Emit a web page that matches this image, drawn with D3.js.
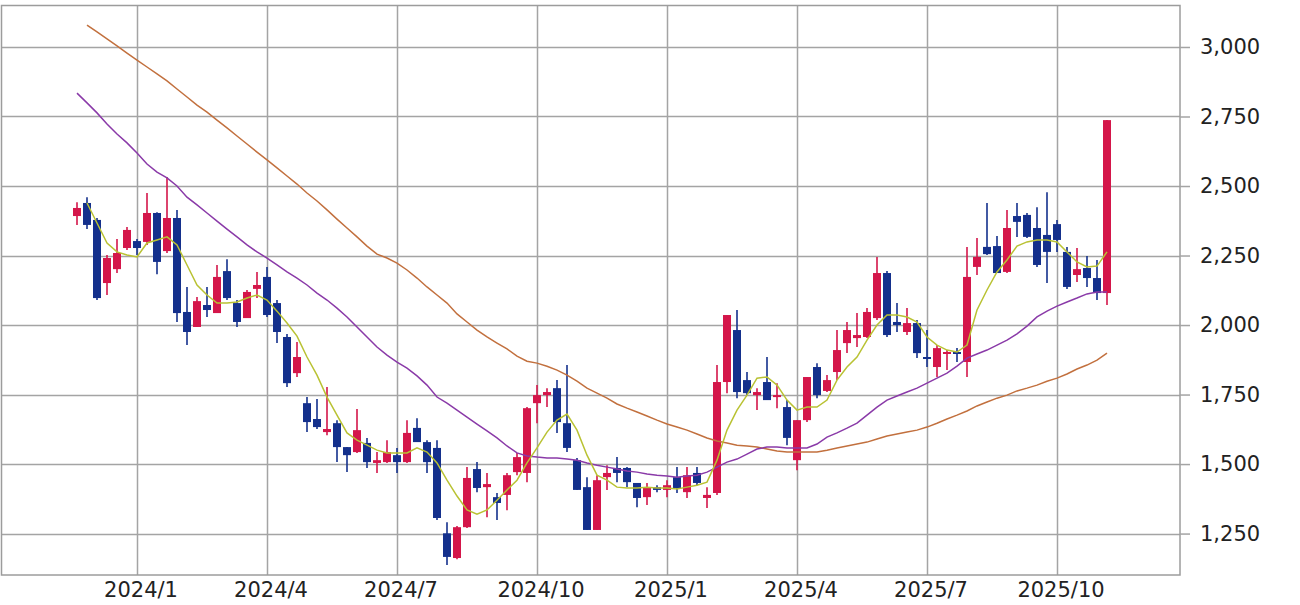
<!DOCTYPE html>
<html>
<head>
<meta charset="utf-8">
<script src="https://cdn.jsdelivr.net/npm/d3@7"></script>
<style>
  body { margin: 0; background: #fff; }
  svg { display: block; }
</style>
</head>
<body>
<div id="chart"></div>
<script>
// weekly bars, Monday of each week (2023/11/20 .. 2025/11/10)
var weeks = d3.timeMonday.range(new Date(2023, 10, 20), new Date(2025, 10, 11));

var opens = [2392, 2439, 2378, 2151, 2201, 2277, 2302, 2299, 2403, 2266,
  2385, 2047, 1993, 2072, 2043, 2194, 2079, 2025, 2130, 2173,
  2079, 1957, 1827, 1719, 1662, 1615, 1647, 1561, 1543, 1576,
  1504, 1507, 1532, 1507, 1630, 1579, 1558, 1251, 1162, 1273,
  1482, 1417, 1381, 1389, 1471, 1468, 1719, 1748, 1773, 1647,
  1514, 1417, 1263, 1453, 1486, 1486, 1432, 1381, 1417, 1407,
  1453, 1399, 1468, 1378, 1396, 1795, 1982, 1802, 1748, 1795,
  1741, 1705, 1514, 1658, 1849, 1763, 1831, 1935, 1953, 1957,
  2025, 2187, 2011, 1975, 2007, 1885, 1849, 1899, 1903, 1867,
  2209, 2281, 2284, 2191, 2392, 2396, 2349, 2324, 2363, 2263,
  2180, 2205, 2169, 2115];

var highs = [2442, 2460, 2385, 2252, 2309, 2353, 2309, 2475, 2406, 2532,
  2414, 2137, 2101, 2137, 2216, 2237, 2090, 2126, 2191, 2209,
  2090, 1968, 1939, 1741, 1734, 1777, 1658, 1561, 1698, 1594,
  1543, 1586, 1558, 1658, 1665, 1586, 1586, 1291, 1277, 1489,
  1507, 1468, 1396, 1468, 1540, 1705, 1784, 1773, 1802, 1856,
  1522, 1453, 1460, 1496, 1525, 1489, 1432, 1432, 1424, 1442,
  1489, 1489, 1489, 1417, 1856, 2036, 2054, 1831, 1773, 1885,
  1791, 1730, 1658, 1813, 1863, 1820, 1982, 2011, 2043, 2061,
  2245, 2194, 2079, 2061, 2018, 1982, 1928, 1910, 1917, 2281,
  2313, 2439, 2320, 2414, 2439, 2403, 2424, 2478, 2378, 2281,
  2277, 2248, 2234, 2737];

var lows = [2360, 2345, 2090, 2108, 2187, 2270, 2252, 2288, 2183, 2259,
  2011, 1928, 1993, 2029, 2043, 2090, 1993, 2025, 2097, 2029,
  1935, 1777, 1813, 1615, 1626, 1604, 1507, 1471, 1540, 1486,
  1468, 1504, 1468, 1504, 1579, 1468, 1299, 1137, 1158, 1270,
  1399, 1309, 1299, 1334, 1460, 1435, 1647, 1705, 1612, 1543,
  1407, 1263, 1263, 1407, 1435, 1417, 1345, 1353, 1399, 1381,
  1396, 1378, 1424, 1342, 1389, 1755, 1737, 1748, 1694, 1730,
  1701, 1568, 1478, 1651, 1737, 1759, 1802, 1899, 1921, 1953,
  2018, 1957, 1975, 1964, 1881, 1849, 1813, 1838, 1867, 1813,
  2180, 2252, 2187, 2187, 2317, 2313, 2209, 2151, 2263, 2130,
  2155, 2137, 2090, 2072];

var closes = [2421, 2360, 2097, 2241, 2259, 2342, 2277, 2403, 2227, 2385,
  2043, 1975, 2086, 2054, 2173, 2097, 2011, 2119, 2144, 2036,
  1975, 1791, 1885, 1651, 1633, 1626, 1561, 1532, 1622, 1507,
  1514, 1543, 1507, 1612, 1579, 1507, 1306, 1166, 1273, 1450,
  1414, 1428, 1360, 1460, 1525, 1701, 1748, 1759, 1651, 1558,
  1407, 1263, 1442, 1468, 1468, 1435, 1378, 1417, 1407, 1424,
  1414, 1460, 1432, 1389, 1795, 2036, 1759, 1755, 1759, 1730,
  1748, 1594, 1658, 1813, 1748, 1802, 1910, 1982, 1964, 2047,
  2187, 1964, 2000, 2007, 1899, 1878, 1917, 1903, 1899, 2173,
  2245, 2255, 2187, 2349, 2371, 2317, 2216, 2263, 2306, 2137,
  2201, 2169, 2115, 2737];

// moving averages
var maShort = [null, 2439, 2367, 2295, 2263, 2252, 2245, 2295, 2306, 2317,
  2288, 2216, 2144, 2108, 2079, 2079, 2083, 2097, 2108, 2090,
  2050, 2007, 1960, 1885, 1820, 1741, 1676, 1612, 1586, 1568,
  1550, 1540, 1540, 1540, 1558, 1543, 1504, 1442, 1385, 1335,
  1320, 1335, 1370, 1407, 1442, 1504, 1558, 1615, 1658, 1680,
  1622, 1532, 1460, 1442, 1417, 1414, 1414, 1417, 1414, 1414,
  1410, 1417, 1424, 1435, 1514, 1622, 1694, 1748, 1809, 1813,
  1784, 1730, 1694, 1705, 1705, 1730, 1802, 1849, 1885, 1946,
  2000, 2036, 2036, 2029, 2011, 1957, 1928, 1910, 1903, 1928,
  2054, 2126, 2191, 2234, 2284, 2299, 2306, 2306, 2299, 2263,
  2227, 2209, 2212, 2263];

var maMid = [2834, 2799, 2763, 2723, 2687, 2655, 2619, 2579, 2550, 2529,
  2500, 2460, 2432, 2403, 2374, 2345, 2317, 2288, 2263, 2241,
  2216, 2191, 2169, 2144, 2115, 2090, 2061, 2029, 1993, 1957,
  1921, 1892, 1867, 1845, 1817, 1784, 1741, 1719, 1694, 1669,
  1644, 1619, 1594, 1565, 1540, 1529, 1525, 1522, 1522, 1518,
  1514, 1504, 1496, 1489, 1482, 1475, 1471, 1464, 1460, 1457,
  1453, 1457, 1460, 1471, 1489, 1507, 1518, 1536, 1554, 1561,
  1561, 1558, 1558, 1558, 1572, 1597, 1612, 1629, 1647, 1676,
  1705, 1730, 1745, 1759, 1773, 1791, 1809, 1827, 1852, 1881,
  1896, 1910, 1928, 1946, 1968, 1996, 2029, 2050, 2068, 2083,
  2097, 2112, 2119, 2119];

var maLong = [null, 3079, 3054, 3029, 3004, 2978, 2953, 2928, 2903, 2878,
  2849, 2820, 2791, 2766, 2737, 2709, 2680, 2651, 2622, 2594,
  2565, 2536, 2507, 2475, 2446, 2414, 2381, 2349, 2317, 2284,
  2255, 2241, 2223, 2198, 2169, 2137, 2108, 2079, 2040, 2011,
  1982, 1957, 1935, 1914, 1888, 1870, 1863, 1852, 1838, 1820,
  1798, 1773, 1755, 1737, 1716, 1701, 1687, 1673, 1658, 1644,
  1633, 1622, 1608, 1594, 1583, 1576, 1568, 1565, 1561, 1554,
  1547, 1543, 1543, 1543, 1543, 1550, 1558, 1565, 1572, 1579,
  1590, 1601, 1608, 1615, 1622, 1633, 1647, 1662, 1676, 1691,
  1709, 1723, 1737, 1748, 1763, 1773, 1784, 1798, 1809, 1824,
  1842, 1856, 1874, 1899];

var yTicks = [1250, 1500, 1750, 2000, 2250, 2500, 2750, 3000];

var width = 1300,
  height = 605;

var plot = { left: 1.5, top: 5.5, right: 1180, bottom: 575 };

var upColor = '#d4164a',
  downColor = '#14308c';

var svg = d3.select('#chart')
  .append('svg')
  .attr('width', width)
  .attr('height', height);

var x = d3.scaleBand()
  .domain(d3.range(weeks.length))
  .range([72, 1112]);

var y = d3.scaleLinear()
  .domain([1101, 3151])
  .range([plot.bottom, plot.top - 0.5]);

// quarter starts: first week beginning in Jan / Apr / Jul / Oct
var xTicks = d3.range(weeks.length).filter(function (i) {
  var d = weeks[i];
  return d.getMonth() % 3 === 0 && d.getDate() <= 7;
});

var cx = function (i) { return x(i) + x.bandwidth() / 2; };

// grid
svg.append('g')
  .selectAll('line')
  .data(yTicks)
  .enter()
  .append('line')
  .attr('x1', plot.left)
  .attr('x2', plot.right)
  .attr('y1', function (d) { return Math.round(y(d)) + 0.5; })
  .attr('y2', function (d) { return Math.round(y(d)) + 0.5; })
  .attr('stroke', '#a4a4a4')
  .attr('stroke-width', 1.5);

svg.append('g')
  .selectAll('line')
  .data(xTicks)
  .enter()
  .append('line')
  .attr('x1', function (i) { return Math.round(cx(i)) + 0.5; })
  .attr('x2', function (i) { return Math.round(cx(i)) + 0.5; })
  .attr('y1', plot.top)
  .attr('y2', plot.bottom)
  .attr('stroke', '#a4a4a4')
  .attr('stroke-width', 1.5);

svg.append('rect')
  .attr('x', plot.left)
  .attr('y', plot.top)
  .attr('width', plot.right - plot.left)
  .attr('height', plot.bottom - plot.top)
  .attr('fill', 'none')
  .attr('stroke', '#9c9c9c')
  .attr('stroke-width', 1.5);

// candles
var candles = svg.append('g')
  .selectAll('g')
  .data(d3.range(weeks.length))
  .enter()
  .append('g');

candles.append('line')
  .attr('x1', cx)
  .attr('x2', cx)
  .attr('y1', function (i) { return y(highs[i]); })
  .attr('y2', function (i) { return y(lows[i]); })
  .attr('stroke', function (i) { return closes[i] >= opens[i] ? upColor : downColor; })
  .attr('stroke-width', 1.6);

candles.append('rect')
  .attr('x', function (i) { return cx(i) - 4; })
  .attr('width', 8)
  .attr('y', function (i) { return y(Math.max(opens[i], closes[i])); })
  .attr('height', function (i) {
    return Math.max(2, Math.abs(y(opens[i]) - y(closes[i])));
  })
  .attr('fill', function (i) { return closes[i] >= opens[i] ? upColor : downColor; });

// moving averages
var line = d3.line()
  .defined(function (d) { return d != null; })
  .x(function (d, i) { return cx(i); })
  .y(function (d) { return y(d); });

[[maLong, '#c2703e'], [maMid, '#8a3aa8'], [maShort, '#b9c233']].forEach(function (s) {
  svg.append('path')
    .datum(s[0])
    .attr('d', line)
    .attr('fill', 'none')
    .attr('stroke', s[1])
    .attr('stroke-width', 1.5);
});

// axes
var yAxis = svg.append('g')
  .attr('transform', 'translate(' + plot.right + ',0)')
  .call(d3.axisRight(y)
    .tickValues(yTicks)
    .tickSize(10)
    .tickPadding(10)
    .tickFormat(d3.format(',')));

yAxis.select('.domain').remove();
yAxis.selectAll('line').attr('stroke', '#a4a4a4').attr('stroke-width', 1.5);
yAxis.selectAll('text')
  .attr('font-family', 'DejaVu Sans, sans-serif')
  .attr('font-size', 21)
  .attr('fill', '#222');

var xAxis = svg.append('g')
  .attr('transform', 'translate(0,' + plot.bottom + ')')
  .call(d3.axisBottom(x)
    .tickValues(xTicks)
    .tickSize(0)
    .tickPadding(7)
    .tickFormat(function (i) {
      return weeks[i].getFullYear() + '/' + (weeks[i].getMonth() + 1);
    }));

xAxis.select('.domain').remove();
xAxis.selectAll('text')
  .attr('x', 4)
  .attr('font-family', 'DejaVu Sans, sans-serif')
  .attr('font-size', 21)
  .attr('fill', '#222');
</script>
</body>
</html>
